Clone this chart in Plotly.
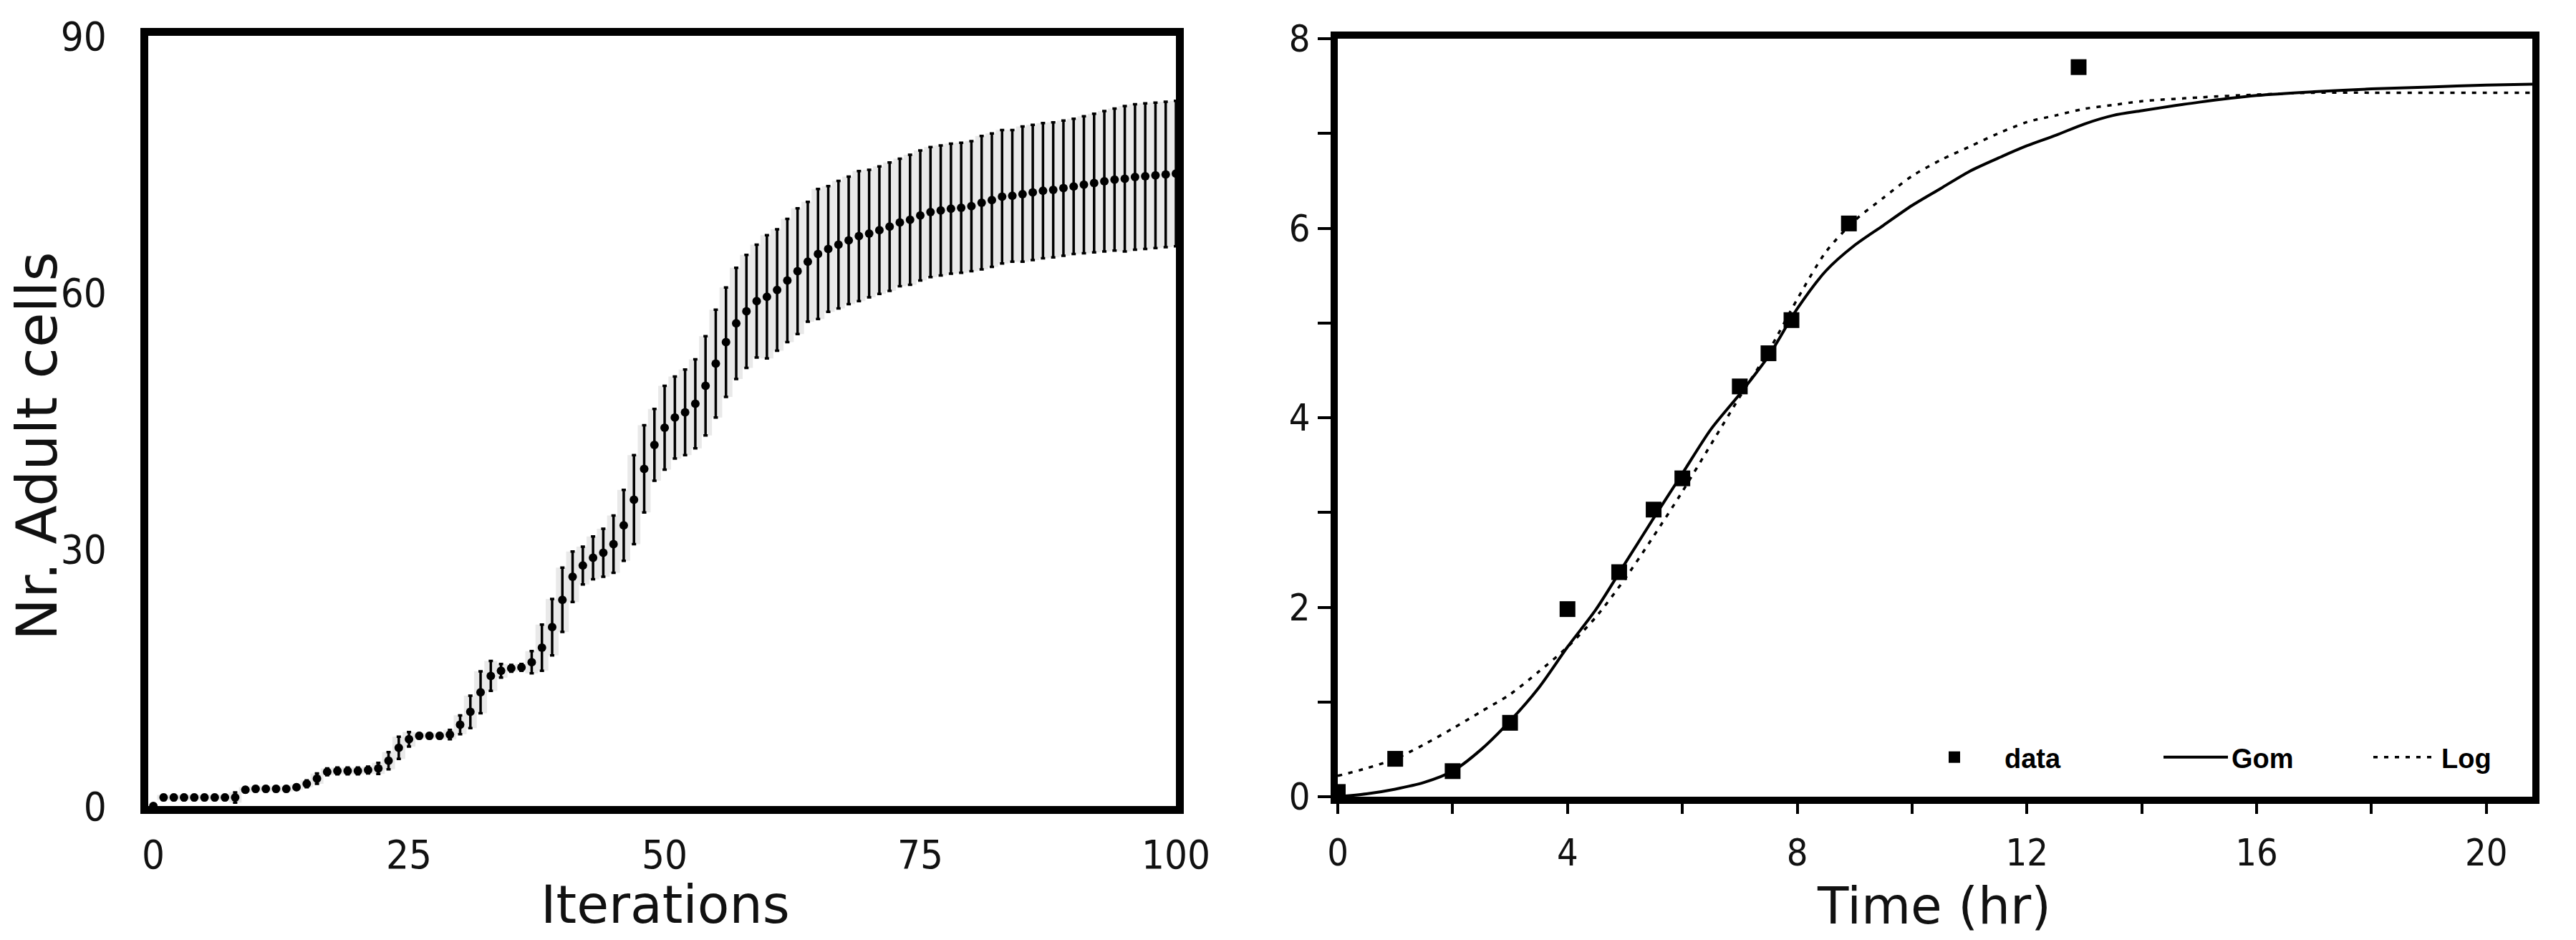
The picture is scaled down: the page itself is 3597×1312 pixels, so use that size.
import plotly.graph_objects as go

W, H = 3597, 1312

# ---------------- Left panel data (simulation) ----------------
iterations = list(range(0, 101))
adult_mean = [
    0.0, 1.0, 1.0, 1.0, 1.0, 1.0, 1.0, 1.0, 1.0, 1.9,
    2.0, 2.0, 2.0, 2.0, 2.2, 2.6, 3.2, 4.0, 4.1, 4.1,
    4.1, 4.2, 4.4, 5.3, 6.8, 7.8, 8.2, 8.2, 8.2, 8.35,
    9.5, 11.0, 13.3, 15.2, 15.8, 16.1, 16.2, 16.8, 18.5, 20.9,
    24.1, 26.8, 28.1, 29.0, 29.6, 30.6, 32.8, 35.8, 39.4, 42.2,
    44.2, 45.4, 46.0, 47.0, 49.1, 51.7, 54.2, 56.4, 57.8, 59.0,
    59.5, 60.3, 61.4, 62.5, 63.6, 64.5, 65.1, 65.6, 66.1, 66.6,
    66.9, 67.3, 67.7, 68.2, 68.5, 69.0, 69.4, 69.6, 69.8, 69.9,
    70.1, 70.5, 70.8, 71.2, 71.3, 71.5, 71.7, 71.9, 72.0, 72.2,
    72.4, 72.6, 72.8, 73.0, 73.2, 73.3, 73.5, 73.6, 73.7, 73.8,
    73.9,
]
adult_err = [
    0.0, 0.3, 0.3, 0.3, 0.3, 0.3, 0.3, 0.3, 0.6, 0.3,
    0.3, 0.3, 0.3, 0.3, 0.3, 0.4, 0.6, 0.4, 0.4, 0.4,
    0.4, 0.4, 0.65, 1.0, 1.3, 0.85, 0.3, 0.3, 0.3, 0.55,
    1.1, 1.9, 2.45, 1.75, 0.8, 0.4, 0.4, 1.3, 2.7, 3.3,
    3.75, 2.95, 2.2, 2.5, 2.8, 3.35, 4.15, 5.2, 5.1, 4.2,
    4.9, 4.8, 5.0, 5.2, 5.8, 6.3, 6.4, 6.5, 6.6, 6.6,
    7.2, 7.1, 7.2, 7.35, 7.0, 7.6, 7.35, 7.45, 7.45, 7.6,
    7.45, 7.45, 7.5, 7.45, 7.6, 7.6, 7.6, 7.6, 7.6, 7.6,
    7.6, 7.8, 7.8, 7.8, 7.7, 7.9, 7.9, 7.9, 7.9, 7.9,
    7.9, 8.0, 8.1, 8.2, 8.3, 8.5, 8.5, 8.5, 8.5, 8.5,
    8.5,
]
left_xticks = [0, 25, 50, 75, 100]
left_yticks = [0, 30, 60, 90]

# ---------------- Right panel data (growth curve) ----------------
time_data = [0, 1, 2, 3, 4, 4.9, 5.5, 6, 7, 7.5, 7.9, 8.9, 12.9]
data_vals = [0.05, 0.4, 0.27, 0.78, 1.98, 2.37, 3.03, 3.36, 4.33, 4.68, 5.03, 6.05, 7.7]

time_fit = [0, 0.5, 1, 1.5, 2, 2.5, 3, 3.5, 4, 4.5, 5, 5.5, 6, 6.5, 7, 7.5, 8, 8.5,
            9, 9.5, 10, 10.5, 11, 11.5, 12, 12.5, 13, 13.5, 14, 15, 16, 17, 18, 19, 20, 20.8]
gom_vals = [0.0, 0.03, 0.08, 0.15, 0.27, 0.5, 0.8, 1.15, 1.58, 1.98, 2.46, 2.94, 3.41, 3.88,
            4.25, 4.65, 5.15, 5.55, 5.82, 6.03, 6.24, 6.42, 6.6, 6.74, 6.87, 6.98, 7.1, 7.19,
            7.24, 7.33, 7.40, 7.44, 7.47, 7.49, 7.51, 7.52]
log_vals = [0.22, 0.3, 0.4, 0.55, 0.72, 0.9, 1.08, 1.32, 1.58, 1.9, 2.3, 2.75, 3.22, 3.72,
            4.22, 4.7, 5.25, 5.75, 6.08, 6.32, 6.55, 6.72, 6.86, 7.0, 7.12, 7.19, 7.26, 7.3,
            7.34, 7.38, 7.41, 7.43, 7.43, 7.43, 7.43, 7.43]
right_xticks = [0, 4, 8, 12, 16, 20]
right_xminor = [2, 6, 10, 14, 18]
right_yticks = [0, 2, 4, 6, 8]
right_yminor = [1, 3, 5, 7]

TICK_FONT = "DejaVu Sans Condensed, DejaVu Sans, sans-serif"
TITLE_FONT = "DejaVu Sans, Verdana, sans-serif"
LEG_FONT = dict(family="Liberation Sans, Arial, sans-serif", size=38, color="black", weight="bold")

fig = go.Figure()

# light halo behind error bars
fig.add_trace(go.Scatter(
    x=iterations, y=adult_mean, mode="markers",
    marker=dict(size=1, color="rgba(0,0,0,0)"),
    error_y=dict(type="data", array=adult_err, color="#e9e9e9", thickness=18, width=0),
    xaxis="x", yaxis="y", showlegend=False, hoverinfo="skip",
))
fig.add_trace(go.Scatter(
    x=iterations, y=adult_mean, mode="markers",
    marker=dict(size=12, color="black", symbol="circle"),
    error_y=dict(type="data", array=adult_err, color="black", thickness=3.5, width=3),
    xaxis="x", yaxis="y", showlegend=False, name="Adult cells",
))

fig.add_trace(go.Scatter(
    x=time_data, y=data_vals, mode="markers", name="data", legend="legend",
    marker=dict(size=22, color="black", symbol="square"),
    xaxis="x2", yaxis="y2",
))
fig.add_trace(go.Scatter(
    x=time_fit, y=gom_vals, mode="lines", name="Gom", legend="legend2",
    line=dict(color="black", width=4, shape="spline", smoothing=0.8),
    xaxis="x2", yaxis="y2",
))
fig.add_trace(go.Scatter(
    x=time_fit, y=log_vals, mode="lines", name="Log", legend="legend3",
    line=dict(color="black", width=3.5, dash="6px,9px", shape="spline", smoothing=0.8),
    xaxis="x2", yaxis="y2",
))

common = dict(showgrid=False, zeroline=False, showline=True, linecolor="black",
              mirror=True, automargin=False)
leg_common = dict(orientation="h", xanchor="left", yanchor="middle", y=1 - 1057 / H,
                  bgcolor="rgba(0,0,0,0)", borderwidth=0, font=LEG_FONT)

fig.update_layout(
    template="none",
    width=W, height=H,
    margin=dict(l=0, r=0, t=0, b=0, autoexpand=False),
    paper_bgcolor="white", plot_bgcolor="white",
    xaxis=dict(domain=[207 / W, 1642 / W], range=[-0.5, 100], tickvals=left_xticks,
               ticks="outside", ticklen=9, tickcolor="rgba(0,0,0,0)", linewidth=11,
               tickfont=dict(family=TICK_FONT, size=56, color="#111"), anchor="y", **common),
    yaxis=dict(domain=[1 - 1125 / H, 1 - 50 / H], range=[0, 90], tickvals=left_yticks,
               ticks="outside", ticklen=36, tickcolor="rgba(0,0,0,0)", linewidth=11,
               tickfont=dict(family=TICK_FONT, size=56, color="#111"), anchor="x", **common),
    xaxis2=dict(domain=[1868 / W, 3536 / W], range=[0, 20.8], tickvals=right_xticks,
                ticks="outside", ticklen=14, tickwidth=4, tickcolor="black", linewidth=10,
                ticklabelstandoff=10,
                minor=dict(tickvals=right_xminor, ticks="outside", ticklen=14, tickwidth=4,
                           tickcolor="black"),
                tickfont=dict(family=TICK_FONT, size=52, color="#111"), anchor="y2", **common),
    yaxis2=dict(domain=[1 - 1112 / H, 1 - 54 / H], range=[0, 8], tickvals=right_yticks,
                ticks="outside", ticklen=18, tickwidth=4, tickcolor="black", linewidth=10,
                minor=dict(tickvals=right_yminor, ticks="outside", ticklen=18, tickwidth=4,
                           tickcolor="black"),
                tickfont=dict(family=TICK_FONT, size=52, color="#111"), anchor="x2", **common),
    showlegend=True,
    legend=dict(x=2659 / W, itemwidth=130, **leg_common),
    legend2=dict(x=3016 / W, itemwidth=90, **leg_common),
    legend3=dict(x=3309 / W, itemwidth=90, **leg_common),
    annotations=[
        dict(text="Nr. Adult cells", x=52 / W, y=1 - 623 / H, xref="paper", yref="paper",
             textangle=-90, showarrow=False, xanchor="center", yanchor="middle",
             font=dict(family=TITLE_FONT, size=79, color="#111")),
        dict(text="Iterations", x=929 / W, y=1 - 1262 / H, xref="paper", yref="paper",
             showarrow=False, xanchor="center", yanchor="middle",
             font=dict(family=TITLE_FONT, size=73, color="#111")),
        dict(text="Time (hr)", x=2700 / W, y=1 - 1264 / H, xref="paper", yref="paper",
             showarrow=False, xanchor="center", yanchor="middle",
             font=dict(family=TITLE_FONT, size=71, color="#111")),
    ],
)

fig.write_html("out.html", config={"displayModeBar": False},
               post_script="document.body.style.margin='0';document.body.style.overflow='hidden';")
